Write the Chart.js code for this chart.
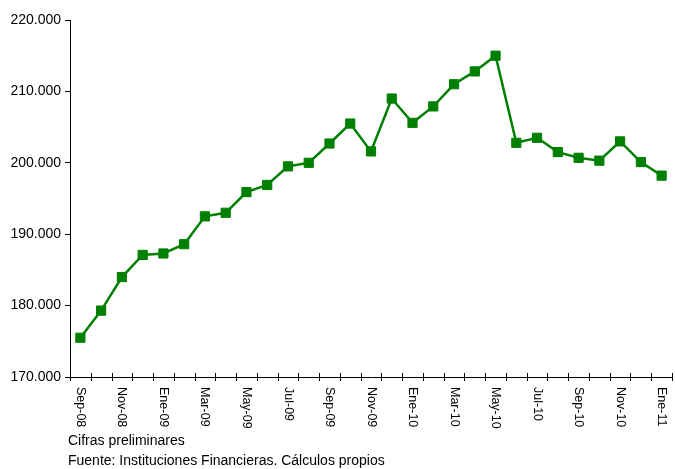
<!DOCTYPE html>
<html>
<head>
<meta charset="utf-8">
<script src="https://cdn.jsdelivr.net/npm/chart.js@4.4.0/dist/chart.umd.min.js"></script>
<style>
  html, body { margin: 0; padding: 0; background: #fff; }
  #wrap { width: 675px; height: 469px; }
</style>
</head>
<body>
<div id="wrap"><canvas id="chart" width="675" height="469"></canvas></div>
<script>
// --- datos ---
const meses = ['Sep-08','Oct-08','Nov-08','Dic-08','Ene-09','Feb-09','Mar-09','Abr-09','May-09','Jun-09',
               'Jul-09','Ago-09','Sep-09','Oct-09','Nov-09','Dic-09','Ene-10','Feb-10','Mar-10','Abr-10',
               'May-10','Jun-10','Jul-10','Ago-10','Sep-10','Oct-10','Nov-10','Dic-10','Ene-11'];
const valores = [175500, 179300, 184000, 187100, 187300, 188600, 192500, 193000, 195900, 196900,
                 199500, 200000, 202700, 205500, 201600, 209000, 205600, 207900, 211000, 212800,
                 215000, 202800, 203500, 201500, 200700, 200300, 203000, 200100, 198200];
const ticksY = [170000, 180000, 190000, 200000, 210000, 220000];
const notas = ['Cifras preliminares', 'Fuente: Instituciones Financieras. Cálculos propios'];

const FONT = '"Liberation Sans", Arial, sans-serif';
const VERDE = '#008000';

function miles(v) {
    return String(v).replace(/\B(?=(\d{3})+(?!\d))/g, '.');
}

// eje X dibujado a mano: marcas que cruzan el eje y etiquetas giradas hacia abajo
const ejeXPlugin = {
    id: 'ejeX',
    afterDraw(chart) {
        const ctx = chart.ctx;
        const x = chart.scales.x;
        const area = chart.chartArea;
        const y0 = area.bottom;
        const paso = x.getPixelForValue(1) - x.getPixelForValue(0);
        ctx.save();
        ctx.strokeStyle = '#000';
        ctx.lineWidth = 1;
        ctx.beginPath();
        for (let i = 0; i <= meses.length; i++) {
            const px = Math.round(x.getPixelForValue(i) - paso / 2) + 0.5;
            ctx.moveTo(px, y0 - 4);
            ctx.lineTo(px, y0 + 4);
        }
        ctx.stroke();

        ctx.fillStyle = '#000';
        ctx.font = '12.5px ' + FONT;
        ctx.textAlign = 'left';
        ctx.textBaseline = 'middle';
        meses.forEach((m, i) => {
            if (i % 2 !== 0) return;
            const px = x.getPixelForValue(i);
            ctx.save();
            ctx.translate(px, y0 + 10);
            ctx.rotate(Math.PI / 2);
            ctx.fillText(m, 0, 0);
            ctx.restore();
        });

        ctx.font = '14px ' + FONT;
        ctx.fillText(notas[0], 68, 441);
        ctx.fillText(notas[1], 68, 461);
        ctx.restore();
    }
};

new Chart(document.getElementById('chart'), {
    type: 'line',
    data: {
        labels: meses,
        datasets: [{
            data: valores,
            borderColor: VERDE,
            backgroundColor: VERDE,
            borderWidth: 2.5,
            pointStyle: 'rect',
            pointRadius: 6.5,
            pointBorderWidth: 1,
            pointBackgroundColor: VERDE,
            pointBorderColor: VERDE,
            tension: 0
        }]
    },
    options: {
        responsive: false,
        animation: false,
        layout: { autoPadding: false, padding: { top: 20, right: 3, left: 0, bottom: 0 } },
        plugins: { legend: { display: false }, tooltip: { enabled: false } },
        scales: {
            x: {
                offset: true,
                grid: { display: false },
                border: { display: true, color: '#000', width: 1 },
                ticks: { display: false },
                afterFit(s) { s.height = 92; }
            },
            y: {
                min: 170000,
                max: 220000,
                afterBuildTicks(s) { s.ticks = ticksY.map(v => ({ value: v })); },
                grid: { drawOnChartArea: false, color: '#000', tickLength: 5 },
                border: { display: true, color: '#000', width: 1 },
                ticks: {
                    color: '#000',
                    padding: 4,
                    font: { family: FONT, size: 14 },
                    callback: v => miles(v)
                },
                afterFit(s) { s.width = 70; }
            }
        }
    },
    plugins: [ejeXPlugin]
});
</script>
</body>
</html>
